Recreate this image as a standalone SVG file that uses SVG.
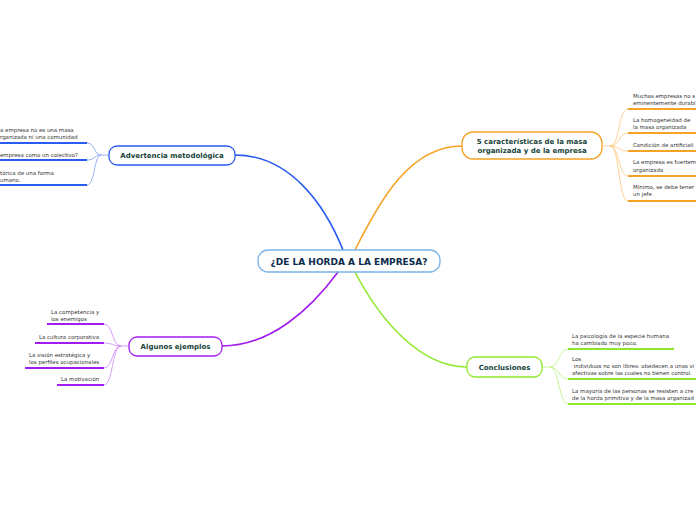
<svg xmlns="http://www.w3.org/2000/svg" width="696" height="520" viewBox="0 0 696 520">
<style>
.node{fill:#fff;stroke-width:1.3}
.nt{font-family:"DejaVu Sans",Verdana,sans-serif;font-weight:bold;font-size:7px;fill:#17433a;text-anchor:middle}
.ct{font-family:"DejaVu Sans",Verdana,sans-serif;font-weight:bold;font-size:9px;fill:#0b2a4a;text-anchor:middle}
.lt{font-family:"DejaVu Sans",Verdana,sans-serif;font-size:5.45px;fill:#333}
.c{fill:none}
.ul{stroke-width:2;fill:none}
</style>
<rect width="696" height="520" fill="#fff"/>
<g id="connectors">
  <path class="c" d="M235 155 C290 155 325 205 343 250" stroke="#2a5cf0" stroke-width="1.6"/>
  <path class="c" d="M462 146 C410 146 380 200 355 250" stroke="#f5a225" stroke-width="1.6"/>
  <path class="c" d="M222 346 C270 346 310 310 338 272" stroke="#a21cf0" stroke-width="1.6"/>
  <path class="c" d="M467 367 C420 367 380 320 355 272" stroke="#8ee82a" stroke-width="1.6"/>
  <g stroke="#7fa0f5" stroke-width="0.8" fill="none">
    <path d="M109 155 L101 155 C94 155 95 143 87 143"/>
    <path d="M101 155 C94 155 95 160 87 160"/>
    <path d="M101 155 C94 155 95 185 87 185"/>
  </g>
  <g class="ul" stroke="#2a5cf0">
    <path d="M0 143 H87"/>
    <path d="M0 160 H87"/>
    <path d="M0 185 H87"/>
  </g>
  <g stroke="#fbc778" stroke-width="0.8" fill="none">
    <path d="M602 146 L610 146 C620 146 618 109 628 109"/>
    <path d="M610 146 C620 146 618 133 628 133"/>
    <path d="M610 146 C620 146 618 151 628 151"/>
    <path d="M610 146 C620 146 618 176 628 176"/>
    <path d="M610 146 C620 146 618 201 628 201"/>
  </g>
  <g class="ul" stroke="#f5a225">
    <path d="M628 109 H696"/>
    <path d="M628 133 H696"/>
    <path d="M628 151 H696"/>
    <path d="M628 176 H696"/>
    <path d="M628 201 H696"/>
  </g>
  <g stroke="#cf85fa" stroke-width="0.8" fill="none">
    <path d="M129 346 L121 346 C112 346 113 324 104 324"/>
    <path d="M121 346 C112 346 113 343 104 343"/>
    <path d="M121 346 C112 346 113 368 104 368"/>
    <path d="M121 346 C112 346 113 385 104 385"/>
  </g>
  <g class="ul" stroke="#a21cf0">
    <path d="M47 324 H104"/>
    <path d="M35 343 H104"/>
    <path d="M25 368 H104"/>
    <path d="M57 385 H104"/>
  </g>
  <g stroke="#b9f07a" stroke-width="0.8" fill="none">
    <path d="M542 367 L550 367 C559 367 559 349 568 349"/>
    <path d="M550 367 C559 367 559 379 568 379"/>
    <path d="M550 367 C559 367 559 404 568 404"/>
  </g>
  <g class="ul" stroke="#8ee82a">
    <path d="M568 349 H674"/>
    <path d="M568 379 H696"/>
    <path d="M568 404 H696"/>
  </g>
</g>
<g id="central">
  <rect class="node" x="258" y="250" width="182" height="22" rx="10" stroke="#78b4e8"/>
  <text class="ct" x="349" y="264.5">¿DE LA HORDA A LA EMPRESA?</text>
</g>
<g id="advertencia">
  <rect class="node" x="109" y="146" width="126" height="19" rx="8" stroke="#2a5cf0"/>
  <text class="nt" x="172" y="158">Advertencia metodológica</text>
</g>
<g id="adv-1"><text class="lt" x="0" y="132">a empresa no es una masa</text><text class="lt" x="0" y="139">rganizada ni una comunidad</text></g>
<g id="adv-2"><text class="lt" x="0" y="157">empresa como un colectivo?</text></g>
<g id="adv-3"><text class="lt" x="0" y="175">tórica de una forma</text><text class="lt" x="0" y="181.5">umano.</text></g>
<g id="caracteristicas">
  <rect class="node" x="462" y="132" width="140" height="27" rx="11" stroke="#f5a225"/>
  <text class="nt" x="532" y="143.5">5 características de la masa</text>
  <text class="nt" x="532" y="152.5">organizada y de la empresa</text>
</g>
<g id="car-1"><text class="lt" x="633" y="98">Muchas empresas no s</text><text class="lt" x="633" y="105">eminentemente durabl</text></g>
<g id="car-2"><text class="lt" x="633" y="122">La homogeneidad de</text><text class="lt" x="633" y="129">la masa organizada</text></g>
<g id="car-3"><text class="lt" x="633" y="147">Condición de artificiali</text></g>
<g id="car-4"><text class="lt" x="633" y="164">La empresa es fuertem</text><text class="lt" x="633" y="171.5">organizada</text></g>
<g id="car-5"><text class="lt" x="633" y="189">Mínimo, se debe tener</text><text class="lt" x="633" y="196">un jefe</text></g>
<g id="ejemplos">
  <rect class="node" x="129" y="337" width="93" height="19" rx="8" stroke="#a21cf0"/>
  <text class="nt" x="175.5" y="349">Algunos ejemplos</text>
</g>
<g id="ej-1"><text class="lt" x="51" y="314">La competencia y</text><text class="lt" x="51" y="321">los enemigos</text></g>
<g id="ej-2"><text class="lt" x="39" y="339">La cultura corporativa</text></g>
<g id="ej-3"><text class="lt" x="29" y="357">La visión estratégica y</text><text class="lt" x="29" y="364">los perfiles ocupacionales</text></g>
<g id="ej-4"><text class="lt" x="61" y="381">La motivación</text></g>
<g id="conclusiones">
  <rect class="node" x="467" y="357" width="75" height="20" rx="8" stroke="#8ee82a"/>
  <text class="nt" x="504.5" y="369.5">Conclusiones</text>
</g>
<g id="con-1"><text class="lt" x="572" y="338">La psicología de la especie humana</text><text class="lt" x="572" y="345">ha cambiado muy poco.</text></g>
<g id="con-2"><text class="lt" x="572" y="361">Los</text><text class="lt" x="572" y="368" xml:space="preserve"> individuos no son libres: obedecen a unas vi</text><text class="lt" x="572" y="375">afectivas sobre las cuales no tienen control.</text></g>
<g id="con-3"><text class="lt" x="572" y="393">La mayoría de las personas se resisten a cre</text><text class="lt" x="572" y="400">de la horda primitiva y de la masa organizad</text></g>
</svg>
